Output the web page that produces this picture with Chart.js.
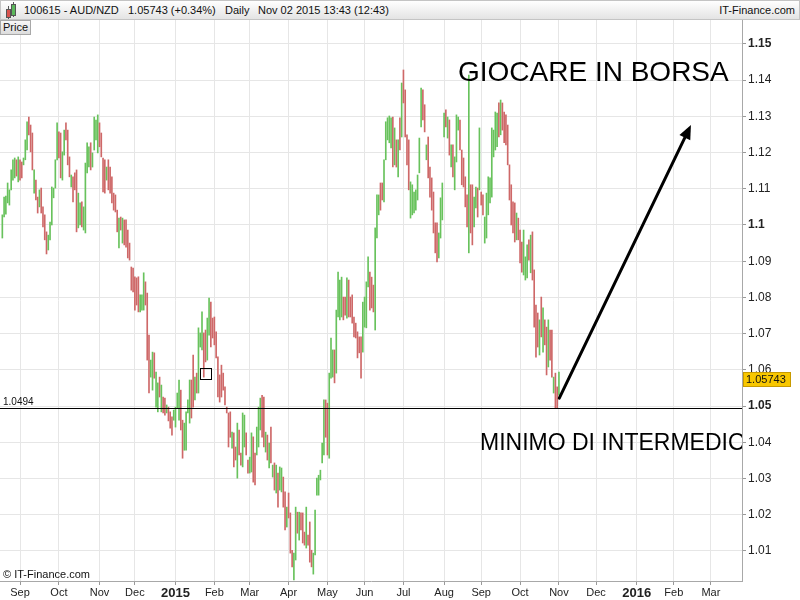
<!DOCTYPE html>
<html>
<head>
<meta charset="utf-8">
<title>AUD/NZD Daily</title>
<script src="https://cdn.jsdelivr.net/npm/chart.js@4.4.0/dist/chart.umd.min.js"></script>
<style>
  body { margin: 0; background: #fff; font-family: "Liberation Sans", Arial, sans-serif; }
  #wrap { position: relative; width: 800px; height: 600px; overflow: hidden; }
  #chart { position: absolute; left: 0; top: 0; }
  #header { position: absolute; left: 0; top: 0; width: 798px; height: 18px; border: 1px solid #c4c4c4;
            background: linear-gradient(#ffffff, #e4e4e4); font-size: 11px; color: #111; }
  #header span { position: absolute; top: 3px; white-space: nowrap; }
  .candle { position: absolute; width: 3px; border: 1px solid #555; }
  .wick { position: absolute; width: 1px; background: #555; }
  #pricebox { position: absolute; left: 0; top: 20px; width: 27px; height: 13px; border: 1px solid #a8a8a8;
              background: linear-gradient(#f8f8f8, #dcdcdc); font-size: 11px; line-height: 13px; padding-left: 2px; color: #111; }
  #copy { position: absolute; left: 3px; top: 568px; font-size: 11px; color: #111; }
  #notes { position: absolute; left: 0; top: 20px; width: 742px; height: 561px; overflow: hidden; pointer-events: none; }
  #notes div { position: absolute; white-space: nowrap; color: #000; line-height: 1; }
</style>
</head>
<body>
<div id="wrap">
  <canvas id="chart" width="800" height="600"></canvas>
  <div id="header">
    <div class="wick" style="left:7px;top:5px;height:13px"></div>
    <div class="candle" style="left:5px;top:8px;height:7px;background:#d9534f"></div>
    <div class="wick" style="left:12px;top:1px;height:15px"></div>
    <div class="candle" style="left:10px;top:3px;height:10px;background:#5cb85c"></div>
    <span style="left:23px">100615 - AUD/NZD</span>
    <span style="left:127px">1.05743 (+0.34%)</span>
    <span style="left:224px">Daily</span>
    <span style="left:257px">Nov 02 2015 13:43 (12:43)</span>
    <span style="right:4px">IT-Finance.com</span>
  </div>
  <div id="pricebox">Price</div>
  <div id="copy">© IT-Finance.com</div>
  <div id="notes">
    <div style="left:458px;top:38px;font-size:28px">GIOCARE IN BORSA</div>
    <div style="left:480px;top:411px;font-size:23px">MINIMO DI INTERMEDIO</div>
  </div>
</div>
<script>
// daily bars from Mon 18 Aug 2014 to Mon 02 Nov 2015 (one per weekday)
const firstDay = [2014, 7, 18];
const lastAxisDay = [2016, 2, 31];

const barHighs = [
  1.1028, 1.1077, 1.1080, 1.1116, 1.1097, 1.1152, 1.1180, 1.1185, 1.1180, 1.1188,
  1.1180, 1.1174, 1.1185, 1.1235, 1.1285, 1.1298, 1.1276, 1.1254, 1.1152, 1.1124,
  1.1077, 1.1097, 1.1102, 1.1050, 1.1028, 1.0981, 1.0972, 1.1008, 1.1105, 1.1102,
  1.1180, 1.1282, 1.1257, 1.1254, 1.1202, 1.1262, 1.1282, 1.1262, 1.1188, 1.1138,
  1.1133, 1.1144, 1.1152, 1.1088, 1.1061, 1.1064, 1.1050, 1.1171, 1.1227, 1.1216,
  1.1227, 1.1199, 1.1298, 1.1290, 1.1304, 1.1282, 1.1254, 1.1185, 1.1180, 1.1160,
  1.1180, 1.1160, 1.1133, 1.1088, 1.1083, 1.1041, 1.1019, 1.1022, 1.1019, 1.1014,
  1.1014, 1.0986, 1.0950, 1.0884, 1.0881, 1.0857, 1.0854, 1.0857, 1.0807, 1.0807,
  1.0868, 1.0843, 1.0812, 1.0696, 1.0627, 1.0649, 1.0647, 1.0594, 1.0564, 1.0580,
  1.0558, 1.0525, 1.0522, 1.0503, 1.0497, 1.0484, 1.0470, 1.0489, 1.0497, 1.0536,
  1.0572, 1.0544, 1.0461, 1.0453, 1.0484, 1.0517, 1.0572, 1.0572, 1.0641, 1.0580,
  1.0591, 1.0716, 1.0702, 1.0760, 1.0702, 1.0710, 1.0743, 1.0798, 1.0787, 1.0743,
  1.0746, 1.0705, 1.0636, 1.0586, 1.0613, 1.0591, 1.0553, 1.0497, 1.0481, 1.0484,
  1.0428, 1.0426, 1.0387, 1.0453, 1.0434, 1.0370, 1.0481, 1.0475, 1.0426, 1.0351,
  1.0359, 1.0426, 1.0415, 1.0370, 1.0442, 1.0497, 1.0522, 1.0530, 1.0525, 1.0428,
  1.0420, 1.0398, 1.0442, 1.0337, 1.0343, 1.0337, 1.0315, 1.0332, 1.0329, 1.0304,
  1.0263, 1.0221, 1.0260, 1.0205, 1.0102, 1.0094, 1.0221, 1.0207, 1.0207, 1.0205,
  1.0205, 1.0152, 1.0221, 1.0144, 1.0180, 1.0102, 1.0094, 1.0213, 1.0301, 1.0309,
  1.0323, 1.0398, 1.0517, 1.0517, 1.0508, 1.0591, 1.0688, 1.0655, 1.0655, 1.0765,
  1.0870, 1.0848, 1.0856, 1.0801, 1.0801, 1.0854, 1.0848, 1.0801, 1.0807, 1.0746,
  1.0729, 1.0705, 1.0691, 1.0691, 1.0787, 1.0801, 1.0843, 1.0912, 1.0870, 1.0856,
  1.0834, 1.0992, 1.1083, 1.1083, 1.1116, 1.1116, 1.1180, 1.1285, 1.1296, 1.1301,
  1.1296, 1.1298, 1.1268, 1.1235, 1.1235, 1.1296, 1.1392, 1.1428, 1.1373, 1.1249,
  1.1235, 1.1119, 1.1111, 1.1091, 1.1097, 1.1138, 1.1240, 1.1378, 1.1373, 1.1332,
  1.1221, 1.1243, 1.1160, 1.1130, 1.1091, 1.1006, 1.1006, 1.0978, 1.1075, 1.1116,
  1.1309, 1.1318, 1.1298, 1.1290, 1.1221, 1.1221, 1.1188, 1.1304, 1.1298, 1.1290,
  1.1207, 1.1185, 1.1133, 1.1083, 1.1414, 1.1111, 1.1111, 1.1077, 1.1105, 1.1102,
  1.1268, 1.1091, 1.1083, 1.1022, 1.1088, 1.1133, 1.1130, 1.1268, 1.1262, 1.1312,
  1.1309, 1.1337, 1.1345, 1.1337, 1.1312, 1.1304, 1.1276, 1.1166, 1.1111, 1.1064,
  1.1061, 1.1033, 1.1019, 1.0986, 1.0953, 1.0986, 1.0912, 1.0945, 1.0959, 1.0972,
  1.0981, 1.0876, 1.0779, 1.0757, 1.0738, 1.0801, 1.0771, 1.0738, 1.0718, 1.0738,
  1.0710, 1.0710, 1.0580, 1.0591, 1.0553, 1.0594
];

const barLows = [
  1.0964, 1.1022, 1.1030, 1.1061, 1.1055, 1.1097, 1.1124, 1.1130, 1.1135, 1.1119,
  1.1124, 1.1130, 1.1166, 1.1180, 1.1207, 1.1249, 1.1202, 1.1152, 1.1088, 1.1069,
  1.1033, 1.1050, 1.1033, 1.0995, 1.0959, 1.0920, 1.0931, 1.0959, 1.1000, 1.1075,
  1.1102, 1.1180, 1.1185, 1.1130, 1.1124, 1.1193, 1.1235, 1.1166, 1.1133, 1.1105,
  1.1064, 1.1097, 1.0981, 1.0992, 1.1000, 1.0995, 1.0986, 1.0978, 1.1144, 1.1160,
  1.1152, 1.1160, 1.1207, 1.1235, 1.1199, 1.1216, 1.1188, 1.1091, 1.1088, 1.1124,
  1.1097, 1.1088, 1.1061, 1.1041, 1.1036, 1.0981, 1.0937, 1.0986, 1.0950, 1.0945,
  1.0939, 1.0909, 1.0903, 1.0820, 1.0815, 1.0765, 1.0779, 1.0760, 1.0760, 1.0765,
  1.0765, 1.0779, 1.0627, 1.0536, 1.0580, 1.0544, 1.0577, 1.0497, 1.0484, 1.0525,
  1.0484, 1.0481, 1.0475, 1.0481, 1.0459, 1.0439, 1.0420, 1.0461, 1.0442, 1.0495,
  1.0461, 1.0434, 1.0356, 1.0378, 1.0378, 1.0481, 1.0453, 1.0467, 1.0497, 1.0517,
  1.0536, 1.0536, 1.0663, 1.0655, 1.0580, 1.0622, 1.0627, 1.0696, 1.0663, 1.0688,
  1.0669, 1.0633, 1.0525, 1.0511, 1.0525, 1.0544, 1.0503, 1.0481, 1.0387, 1.0414,
  1.0384, 1.0332, 1.0351, 1.0301, 1.0365, 1.0337, 1.0332, 1.0387, 1.0365, 1.0315,
  1.0315, 1.0318, 1.0290, 1.0282, 1.0365, 1.0387, 1.0434, 1.0414, 1.0387, 1.0373,
  1.0351, 1.0329, 1.0343, 1.0304, 1.0268, 1.0260, 1.0221, 1.0268, 1.0263, 1.0221,
  1.0158, 1.0166, 1.0191, 1.0094, 1.0056, 1.0020, 1.0075, 1.0149, 1.0130, 1.0158,
  1.0122, 1.0116, 1.0108, 1.0116, 1.0069, 1.0056, 1.0036, 1.0089, 1.0254, 1.0254,
  1.0296, 1.0343, 1.0365, 1.0414, 1.0365, 1.0356, 1.0577, 1.0580, 1.0564, 1.0591,
  1.0746, 1.0738, 1.0746, 1.0738, 1.0751, 1.0743, 1.0746, 1.0746, 1.0729, 1.0691,
  1.0688, 1.0633, 1.0647, 1.0577, 1.0649, 1.0718, 1.0716, 1.0829, 1.0765, 1.0771,
  1.0760, 1.0710, 1.0964, 1.1028, 1.1041, 1.1069, 1.1064, 1.1180, 1.1235, 1.1227,
  1.1213, 1.1160, 1.1166, 1.1160, 1.1133, 1.1207, 1.1243, 1.1337, 1.1243, 1.1166,
  1.1097, 1.1019, 1.1028, 1.1033, 1.1041, 1.1069, 1.1144, 1.1271, 1.1290, 1.1257,
  1.1180, 1.1130, 1.1077, 1.1041, 1.0978, 1.0923, 1.0898, 1.0909, 1.0964, 1.1014,
  1.1243, 1.1271, 1.1240, 1.1193, 1.1160, 1.1133, 1.1097, 1.1174, 1.1262, 1.1207,
  1.1111, 1.1105, 1.1050, 1.0995, 1.0923, 1.0978, 1.0945, 1.0995, 1.1047, 1.1022,
  1.1097, 1.1055, 1.1028, 1.0950, 1.0964, 1.1028, 1.1061, 1.1077, 1.1188, 1.1207,
  1.1216, 1.1243, 1.1249, 1.1262, 1.1227, 1.1221, 1.1166, 1.1069, 1.1000, 1.0978,
  1.0953, 1.0959, 1.0959, 1.0895, 1.0870, 1.0862, 1.0848, 1.0854, 1.0903, 1.0868,
  1.0848, 1.0718, 1.0635, 1.0663, 1.0641, 1.0691, 1.0649, 1.0669, 1.0586, 1.0608,
  1.0627, 1.0580, 1.0536, 1.0495, 1.0494, 1.0530
];

// G = up day, R = down day
const barDir = [
  "GGGGGGGGRG", "RRGGGRRRGR", "RGRRRRGGGG", "GGRRGGRRRG", "RRRGGRGGGG",
  "RGGGGRRRRG", "RRRRRRGRGR", "RRRRRRRRGG", "GRRRGGRGGR", "GRRGRRRGGG",
  "GRRGGGGRRG", "RGGGRRGGRR", "RRRRRRRRRR", "GRRGRRGGRR", "GGRRGGGRRG",
  "RGRGRGRGGR", "RGRRRGGRGR", "RRGRRRGGGG", "GGGRRGGGRG", "GGGRRGRRRR",
  "RRRRGGGGRR", "RGGGRRGGGG", "GRGRGRGRRR", "RGGGGGGGRR", "GRRRRRRGGG",
  "GRGRGRGGGR", "RRRRGRRGGR", "GRRGGGGGGG", "GRGRRRRRRR", "RGRRRGGGRG",
  "RRRRGRGRRG", "RRGRRG"
].join("").split("");

const monthLabels = ["Sep", "Oct", "Nov", "Dec", "2015", "Feb", "Mar", "Apr", "May", "Jun",
                     "Jul", "Aug", "Sep", "Oct", "Nov", "Dec", "2016", "Feb", "Mar"];
const yTicks = [1.01, 1.02, 1.03, 1.04, 1.05, 1.06, 1.07, 1.08, 1.09, 1.10,
                1.11, 1.12, 1.13, 1.14, 1.15];

const lastPrice = 1.05743;
const supportLevel = 1.0494;
const markerBox = [114.8, 1.0590];          // [bar index, price]
const arrowFrom = [315.2, 1.0522];
const arrowTo = [389.7, 1.1276];

const X_MIN = -1.32, X_MAX = 418.6;
const Y_MIN = 1.0017, Y_MAX = 1.1566;
const UP = "rgb(104,194,92)";
const DOWN = "rgb(206,104,104)";
const FONT = "'Liberation Sans', Arial, sans-serif";

// bar index of the first weekday of every month on the axis
const monthStarts = [];
(function () {
  let d = Date.UTC(firstDay[0], firstDay[1], firstDay[2]);
  const end = Date.UTC(lastAxisDay[0], lastAxisDay[1], lastAxisDay[2]);
  let idx = 0, month = new Date(d).getUTCMonth();
  while (d <= end) {
    const day = new Date(d);
    const wd = day.getUTCDay();
    if (wd !== 0 && wd !== 6) {
      if (day.getUTCMonth() !== month) {
        monthStarts.push(idx);
        month = day.getUTCMonth();
      }
      idx++;
    }
    d += 86400000;
  }
})();

const overlay = {
  id: "overlay",
  afterDatasetsDraw(chart) {
    const { ctx, chartArea: a } = chart;
    const xs = chart.scales.x, ys = chart.scales.y;
    ctx.save();

    // support line
    const sy = Math.round(ys.getPixelForValue(supportLevel)) + 0.5;
    ctx.strokeStyle = "#000";
    ctx.lineWidth = 1;
    ctx.beginPath();
    ctx.moveTo(a.left, sy);
    ctx.lineTo(a.right, sy);
    ctx.stroke();
    ctx.fillStyle = "#111";
    ctx.font = "10px " + FONT;
    ctx.textBaseline = "bottom";
    ctx.fillText(supportLevel.toFixed(4), a.left + 3, sy - 1);

    // small marker box
    const mx = xs.getPixelForValue(markerBox[0]), my = ys.getPixelForValue(markerBox[1]);
    ctx.strokeRect(Math.round(mx - 5.5) + 0.5, Math.round(my - 5.5) + 0.5, 11, 11);

    // arrow
    const x0 = xs.getPixelForValue(arrowFrom[0]), y0 = ys.getPixelForValue(arrowFrom[1]);
    const x1 = xs.getPixelForValue(arrowTo[0]), y1 = ys.getPixelForValue(arrowTo[1]);
    const ang = Math.atan2(y1 - y0, x1 - x0);
    const head = 14, half = 6;
    const bx = x1 - head * Math.cos(ang), by = y1 - head * Math.sin(ang);
    ctx.lineWidth = 3;
    ctx.lineCap = "round";
    ctx.beginPath();
    ctx.moveTo(x0, y0);
    ctx.lineTo(bx, by);
    ctx.stroke();
    ctx.fillStyle = "#000";
    ctx.beginPath();
    ctx.moveTo(x1, y1);
    ctx.lineTo(bx + half * Math.sin(ang), by - half * Math.cos(ang));
    ctx.lineTo(bx - half * Math.sin(ang), by + half * Math.cos(ang));
    ctx.closePath();
    ctx.fill();
    ctx.restore();
  },
  afterDraw(chart) {
    // last price tag on the price axis
    const { ctx, chartArea: a } = chart;
    const py = Math.round(chart.scales.y.getPixelForValue(lastPrice));
    ctx.save();
    ctx.fillStyle = "#f8c700";
    ctx.strokeStyle = "#c89a00";
    ctx.lineWidth = 1;
    ctx.fillRect(a.right + 1, py - 7, 47, 14);
    ctx.strokeRect(a.right + 1.5, py - 6.5, 47, 14);
    ctx.fillStyle = "#111";
    ctx.font = "11px " + FONT;
    ctx.textBaseline = "middle";
    ctx.fillText(lastPrice.toFixed(5), a.right + 4, py + 1);
    ctx.restore();
  }
};

new Chart(document.getElementById("chart"), {
  type: "bar",
  data: {
    datasets: [{
      data: barHighs.map((h, i) => ({ x: i, y: [barLows[i], h] })),
      backgroundColor: barDir.map(d => d === "G" ? UP : DOWN),
      borderWidth: 0,
      barThickness: 1,
      grouped: false
    }]
  },
  options: {
    responsive: false,
    animation: false,
    events: [],
    layout: { padding: { top: 20, left: 0, right: 0, bottom: 0 } },
    plugins: { legend: { display: false }, tooltip: { enabled: false } },
    scales: {
      x: {
        type: "linear",
        min: X_MIN,
        max: X_MAX,
        offset: false,
        afterBuildTicks: s => { s.ticks = monthStarts.map(v => ({ value: v })); },
        afterFit: s => { s.height = 19; },
        grid: { offset: false, color: "#e6e6e6", tickColor: "#999", tickLength: 4 },
        border: { color: "#a8a8a8" },
        ticks: {
          autoSkip: false,
          maxRotation: 0,
          padding: 1,
          color: "#222",
          callback: (v, i) => monthLabels[i],
          font: c => /^\d{4}$/.test(monthLabels[c.index] || "")
            ? { family: FONT, size: 13, weight: "bold" }
            : { family: FONT, size: 11 }
        }
      },
      y: {
        position: "right",
        min: Y_MIN,
        max: Y_MAX,
        afterBuildTicks: s => { s.ticks = yTicks.map(v => ({ value: v })); },
        afterFit: s => { s.width = 58; },
        grid: { color: "#e6e6e6", tickColor: "#999", tickLength: 4 },
        border: { color: "#a8a8a8" },
        ticks: {
          autoSkip: false,
          padding: 2,
          color: "#222",
          callback: v => String(parseFloat(v.toFixed(2))),
          font: c => (c.tick && Math.round(c.tick.value * 100) % 5 === 0)
            ? { family: FONT, size: 12, weight: "bold" }
            : { family: FONT, size: 12 }
        }
      }
    }
  },
  plugins: [overlay]
});
</script>
</body>
</html>
